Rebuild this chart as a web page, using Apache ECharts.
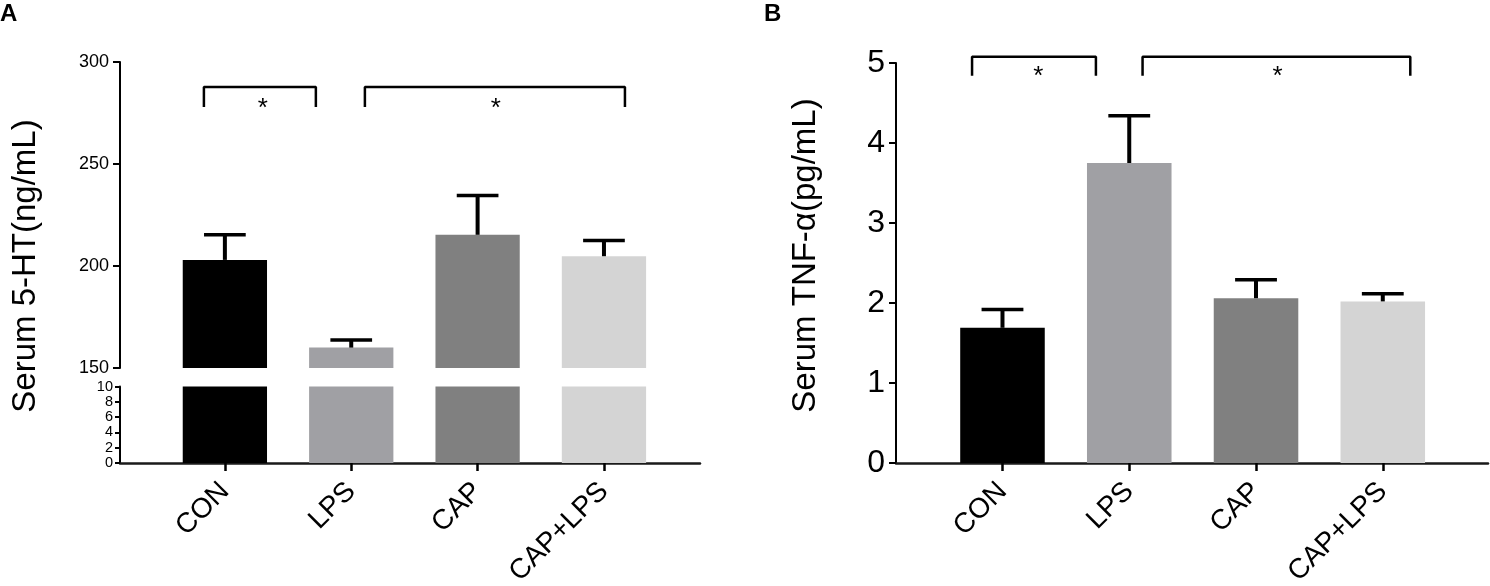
<!DOCTYPE html>
<html><head><meta charset="utf-8">
<script src="https://cdn.jsdelivr.net/npm/echarts@6/dist/echarts.min.js"></script>
<style>html,body{margin:0;padding:0;background:#fff}#c{width:1490px;height:586px}</style>
</head><body><div id="c"></div>
<script>
// ---------- data ----------
const categories = ['CON', 'LPS', 'CAP', 'CAP+LPS'];
const htMean  = [203, 160, 215.3, 204.8];      // Serum 5-HT (ng/mL)
const htUpper = [215.3, 163.7, 234.5, 212.5];  // mean + error
const tnfMean  = [1.69, 3.75, 2.06, 2.02];     // Serum TNF-α (pg/mL)
const tnfUpper = [1.92, 4.34, 2.29, 2.115];
const barColors = ['#000000', '#a0a0a4', '#808080', '#d4d4d4'];
const htBreakLow = 10;    // lower segment 0..10
const htBreakHigh = 150;  // upper segment 150..300
const htTop = 300;
const tnfTop = 5;
// significance brackets (data units: x span, y top, y end)
const htBracketX = [[-0.166, 0.72], [1.108, 3.166]];
const htBracketY = [287.7, 277.9];
const htStarX = [0.30, 2.145];
const htStarY = 279.9;
const tnfBracketX = [[-0.24, 0.737], [1.105, 3.217]];
const tnfBracketY = [5.077, 4.84];
const tnfStarX = [0.283, 2.17];
const tnfStarY = 4.90;

// ---------- styles ----------
const FONT = 'Liberation Sans, Arial, Helvetica, sans-serif';
const BAR_W = 0.667, CAP_W = 0.33, STAR_DY = 6;
const catIdx = categories.map((c, i) => i);

function barItem(params, api) {
  const x = api.value(0), v = api.value(1), b = api.value(2);
  const p1 = api.coord([x, v]), p0 = api.coord([x, b]);
  const w = api.size([BAR_W, 0])[0];
  return { type: 'rect', shape: { x: p1[0] - w / 2, y: p1[1], width: w, height: p0[1] - p1[1] },
           style: { fill: barColors[params.dataIndex] } };
}
function errItem(params, api) {
  const x = api.value(0), m = api.value(1), u = api.value(2);
  const pm = api.coord([x, m]), pu = api.coord([x, u]);
  const cw = api.size([CAP_W, 0])[0];
  return { type: 'group', children: [
    { type: 'line', shape: { x1: pm[0], y1: pm[1], x2: pu[0], y2: pu[1] }, style: { stroke: '#000', lineWidth: 4 } },
    { type: 'line', shape: { x1: pu[0] - cw / 2, y1: pu[1], x2: pu[0] + cw / 2, y2: pu[1] }, style: { stroke: '#000', lineWidth: 3.5 } }
  ] };
}
function starItem(params, api) {
  const p = api.coord([api.value(0), api.value(1)]);
  return { type: 'text', x: p[0], y: p[1] + STAR_DY, style: { text: '*', fill: '#000', font: '26px ' + FONT, align: 'center', verticalAlign: 'middle' } };
}
function bracketData(span, yTop, yEnd) {
  return [[span[0], yEnd], [span[0], yTop], [span[1], yTop], [span[1], yEnd]];
}
function bracketSeries(span, yTop, yEnd, xi, yi) {
  return { type: 'line', xAxisIndex: xi, yAxisIndex: yi, data: bracketData(span, yTop, yEnd),
           symbol: 'none', clip: false, silent: true, z: 5,
           lineStyle: { color: '#000', width: 2.5 } };
}

const yAxisBase = (o) => Object.assign({
  type: 'value', splitLine: { show: false },
  axisLine: { show: true, onZero: false, lineStyle: { color: '#000', width: 2 } },
  axisTick: { show: true, length: 7, lineStyle: { color: '#000', width: 2 } },
  axisLabel: { color: '#000', fontFamily: FONT, fontSize: 18, margin: 11, showMinLabel: true, showMaxLabel: true }
}, o);
const xAxisBase = (o) => Object.assign({
  type: 'value', splitLine: { show: false },
  axisLine: { show: true, onZero: false, lineStyle: { color: '#1a1a1a', width: 2.5 } },
  axisTick: { show: true, length: 8, customValues: catIdx, lineStyle: { color: '#000', width: 2.5 } },
  axisLabel: { show: true, customValues: catIdx, formatter: (v) => categories[Math.round(v)] || '',
               rotate: 45, color: '#000', fontFamily: FONT, fontSize: 28, margin: 24 }
}, o);

const chart = echarts.init(document.getElementById('c'), null, { renderer: 'canvas' });
chart.setOption({
  backgroundColor: '#fff',
  animation: false,
  graphic: [
    { type: 'text', x: 0, y: 2,
      style: { text: 'A', fill: '#000', font: 'bold 24px ' + FONT, align: 'left', verticalAlign: 'top' } },
    { type: 'text', x: 764, y: 2,
      style: { text: 'B', fill: '#000', font: 'bold 24px ' + FONT, align: 'left', verticalAlign: 'top' } },
    { type: 'text', x: 25.5, y: 266, rotation: Math.PI / 2,
      style: { text: 'Serum 5-HT(ng/mL)', fill: '#000', font: '33px ' + FONT, align: 'center', verticalAlign: 'middle' } },
    { type: 'text', x: 805.5, y: 255.5, rotation: Math.PI / 2,
      style: { text: 'Serum TNF-α(pg/mL)', fill: '#000', font: '33px ' + FONT, align: 'center', verticalAlign: 'middle' } }
  ],
  grid: [
    { left: 120, top: 62, width: 580, height: 306, outerBoundsMode: 'none', containLabel: false },
    { left: 120, top: 386.5, width: 580, height: 76.5, outerBoundsMode: 'none', containLabel: false },
    { left: 896, top: 63, width: 592, height: 400, outerBoundsMode: 'none', containLabel: false }
  ],
  xAxis: [
    xAxisBase({ gridIndex: 0, min: -0.83, max: 3.76, show: false }),
    xAxisBase({ gridIndex: 1, min: -0.83, max: 3.76 }),
    xAxisBase({ gridIndex: 2, min: -0.84, max: 3.83 })
  ],
  yAxis: [
    yAxisBase({ gridIndex: 0, min: htBreakHigh, max: htTop, interval: 50 }),
    yAxisBase({ gridIndex: 1, min: 0, max: htBreakLow, interval: 2,
                axisTick: { show: true, length: 5, lineStyle: { color: '#000', width: 2 } },
                axisLabel: { color: '#000', fontFamily: FONT, fontSize: 14.5, lineHeight: 12, margin: 7,
                             showMinLabel: true, showMaxLabel: true, hideOverlap: false } }),
    yAxisBase({ gridIndex: 2, min: 0, max: tnfTop, interval: 1,
                axisLabel: { color: '#000', fontFamily: FONT, fontSize: 32, margin: 11, showMinLabel: true, showMaxLabel: true } })
  ],
  series: [
    // left upper segment
    { type: 'custom', xAxisIndex: 0, yAxisIndex: 0, renderItem: barItem, encode: { x: 0, y: 1 },
      data: catIdx.map(i => [i, htMean[i], htBreakHigh]) },
    { type: 'custom', xAxisIndex: 0, yAxisIndex: 0, renderItem: errItem, encode: { x: 0, y: [1, 2] }, z: 4,
      data: catIdx.map(i => [i, htMean[i], htUpper[i]]) },
    bracketSeries(htBracketX[0], htBracketY[0], htBracketY[1], 0, 0),
    bracketSeries(htBracketX[1], htBracketY[0], htBracketY[1], 0, 0),
    { type: 'custom', xAxisIndex: 0, yAxisIndex: 0, renderItem: starItem, encode: { x: 0, y: 1 },
      data: htStarX.map(x => [x, htStarY]) },
    // left lower segment
    { type: 'custom', xAxisIndex: 1, yAxisIndex: 1, renderItem: barItem, encode: { x: 0, y: 1 },
      data: catIdx.map(i => [i, Math.min(htMean[i], htBreakLow), 0]) },
    // right panel
    { type: 'custom', xAxisIndex: 2, yAxisIndex: 2, renderItem: barItem, encode: { x: 0, y: 1 },
      data: catIdx.map(i => [i, tnfMean[i], 0]) },
    { type: 'custom', xAxisIndex: 2, yAxisIndex: 2, renderItem: errItem, encode: { x: 0, y: [1, 2] }, z: 4,
      data: catIdx.map(i => [i, tnfMean[i], tnfUpper[i]]) },
    bracketSeries(tnfBracketX[0], tnfBracketY[0], tnfBracketY[1], 2, 2),
    bracketSeries(tnfBracketX[1], tnfBracketY[0], tnfBracketY[1], 2, 2),
    { type: 'custom', xAxisIndex: 2, yAxisIndex: 2, renderItem: starItem, encode: { x: 0, y: 1 },
      data: tnfStarX.map(x => [x, tnfStarY]) }
  ]
});
</script></body></html>
